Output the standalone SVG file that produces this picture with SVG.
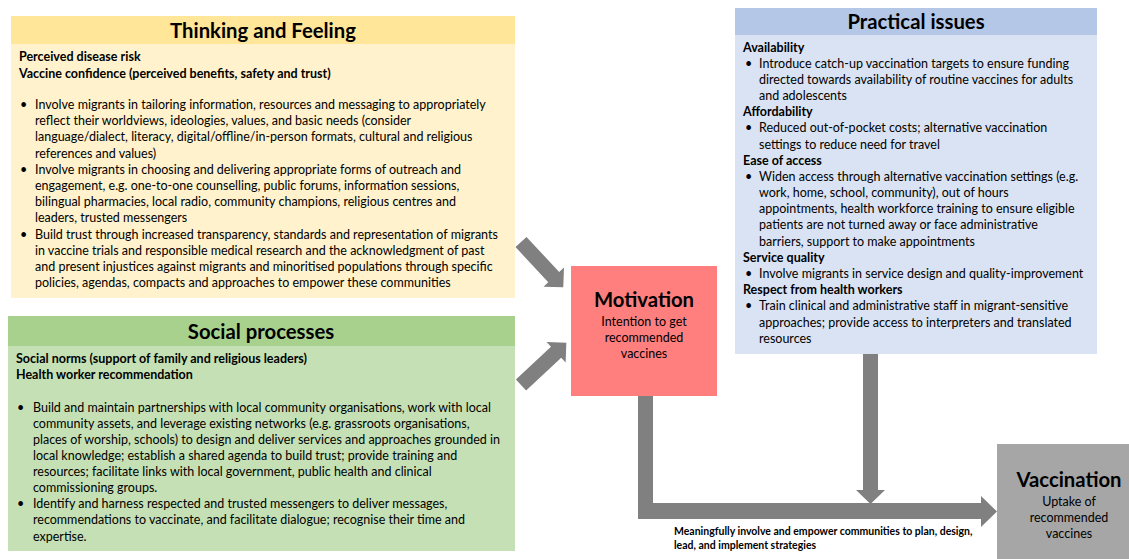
<svg xmlns="http://www.w3.org/2000/svg" width="1129" height="559" viewBox="0 0 1129 559">
<style>
text{font-family:Lato,"Open Sans","Liberation Sans",sans-serif;fill:#000}
.t{font-size:12.5px}
.b{font-size:12.5px;font-weight:bold}
.h{font-size:20.3px;font-weight:bold;text-anchor:middle}
.c{text-anchor:middle}
.s{font-size:10.5px;font-weight:bold}
.arr{fill:#808080}
</style>
<rect width="1129" height="559" fill="#fff"/>
<g id="thinking">
<rect x="11" y="16" width="504" height="282" fill="#FFF2CC"/>
<rect x="11" y="16" width="504" height="28" fill="#FFE699"/>
<text class="h" x="263" y="38">Thinking and Feeling</text>
<text class="b" x="19" y="61">Perceived disease risk</text>
<text class="b" x="19" y="78">Vaccine confidence (perceived benefits, safety and trust)</text>
<text class="t" x="20" y="109">•</text>
<text class="t" x="35" y="109">Involve migrants in tailoring information, resources and messaging to appropriately</text>
<text class="t" x="35" y="125">reflect their worldviews, ideologies, values, and basic needs (consider</text>
<text class="t" x="35" y="141">language/dialect, literacy, digital/offline/in-person formats, cultural and religious</text>
<text class="t" x="35" y="158">references and values)</text>
<text class="t" x="20" y="174">•</text>
<text class="t" x="35" y="174">Involve migrants in choosing and delivering appropriate forms of outreach and</text>
<text class="t" x="35" y="190">engagement, e.g. one-to-one counselling, public forums, information sessions,</text>
<text class="t" x="35" y="206">bilingual pharmacies, local radio, community champions, religious centres and</text>
<text class="t" x="35" y="222">leaders, trusted messengers</text>
<text class="t" x="20" y="239">•</text>
<text class="t" x="35" y="239">Build trust through increased transparency, standards and representation of migrants</text>
<text class="t" x="35" y="255">in vaccine trials and responsible medical research and the acknowledgment of past</text>
<text class="t" x="35" y="271">and present injustices against migrants and minoritised populations through specific</text>
<text class="t" x="35" y="287">policies, agendas, compacts and approaches to empower these communities</text>
</g>
<g id="social">
<rect x="8" y="316" width="507" height="235" fill="#C5E0B4"/>
<rect x="8" y="316" width="507" height="30" fill="#A9D18E"/>
<text class="h" x="261" y="339">Social processes</text>
<text class="b" x="16" y="363">Social norms (support of family and religious leaders)</text>
<text class="b" x="16" y="379">Health worker recommendation</text>
<text class="t" x="17" y="412">•</text>
<text class="t" x="33" y="412">Build and maintain partnerships with local community organisations, work with local</text>
<text class="t" x="33" y="428">community assets, and leverage existing networks (e.g. grassroots organisations,</text>
<text class="t" x="33" y="444">places of worship, schools) to design and deliver services and approaches grounded in</text>
<text class="t" x="33" y="460">local knowledge; establish a shared agenda to build trust; provide training and</text>
<text class="t" x="33" y="476">resources; facilitate links with local government, public health and clinical</text>
<text class="t" x="33" y="492">commissioning groups.</text>
<text class="t" x="17" y="508">•</text>
<text class="t" x="33" y="508">Identify and harness respected and trusted messengers to deliver messages,</text>
<text class="t" x="33" y="524">recommendations to vaccinate, and facilitate dialogue; recognise their time and</text>
<text class="t" x="33" y="541">expertise.</text>
</g>
<g id="practical">
<rect x="735" y="8" width="362" height="346" fill="#DAE3F3"/>
<rect x="735" y="8" width="362" height="27" fill="#B4C7E7"/>
<text class="h" x="916" y="29">Practical issues</text>
<text class="b" x="743" y="52">Availability</text>
<text class="t" x="745" y="68">•</text>
<text class="t" x="759" y="68">Introduce catch-up vaccination targets to ensure funding</text>
<text class="t" x="759" y="84">directed towards availability of routine vaccines for adults</text>
<text class="t" x="759" y="100">and adolescents</text>
<text class="b" x="743" y="116">Affordability</text>
<text class="t" x="745" y="132">•</text>
<text class="t" x="759" y="132">Reduced out-of-pocket costs; alternative vaccination</text>
<text class="t" x="759" y="149">settings to reduce need for travel</text>
<text class="b" x="743" y="165">Ease of access</text>
<text class="t" x="745" y="181">•</text>
<text class="t" x="759" y="181">Widen access through alternative vaccination settings (e.g.</text>
<text class="t" x="759" y="197">work, home, school, community), out of hours</text>
<text class="t" x="759" y="213">appointments, health workforce training to ensure eligible</text>
<text class="t" x="759" y="229">patients are not turned away or face administrative</text>
<text class="t" x="759" y="246">barriers, support to make appointments</text>
<text class="b" x="743" y="262">Service quality</text>
<text class="t" x="745" y="278">•</text>
<text class="t" x="759" y="278">Involve migrants in service design and quality-improvement</text>
<text class="b" x="743" y="294">Respect from health workers</text>
<text class="t" x="745" y="310">•</text>
<text class="t" x="759" y="310">Train clinical and administrative staff in migrant-sensitive</text>
<text class="t" x="759" y="327">approaches; provide access to interpreters and translated</text>
<text class="t" x="759" y="343">resources</text>
</g>
<g id="motivation">
<rect x="571" y="266" width="146" height="130" fill="#FF7F7F"/>
<text class="h" x="644" y="307">Motivation</text>
<text class="t c" x="644" y="326">Intention to get</text>
<text class="t c" x="644" y="342">recommended</text>
<text class="t c" x="644" y="358">vaccines</text>
</g>
<g id="vaccination">
<rect x="997" y="444" width="132" height="115" fill="#A6A6A6"/>
<text class="h" x="1069" y="487">Vaccination</text>
<text class="t c" x="1069" y="506">Uptake of</text>
<text class="t c" x="1069" y="522">recommended</text>
<text class="t c" x="1069" y="538">vaccines</text>
</g>
<g id="connectors">
<path class="arr" transform="translate(521,242) rotate(47)" d="M0,-7.5 L48,-7.5 L48,-14 L62,0 L48,14 L48,7.5 L0,7.5 Z"/>
<path class="arr" transform="translate(521,385) rotate(-43)" d="M0,-7.5 L48,-7.5 L48,-14 L62,0 L48,14 L48,7.5 L0,7.5 Z"/>
<path class="arr" d="M638,396 L653,396 L653,503 L981,503 L981,496 L997,511.5 L981,527 L981,519 L638,519 Z"/>
<path class="arr" d="M863,354 L878,354 L878,490 L885,490 L870.5,504 L856,490 L863,490 Z"/>
</g>
<text class="s" x="674" y="535">Meaningfully involve and empower communities to plan, design,</text>
<text class="s" x="674" y="549">lead, and implement strategies</text>
</svg>
